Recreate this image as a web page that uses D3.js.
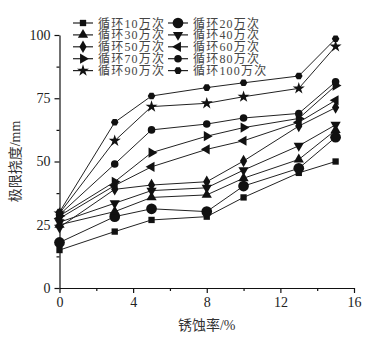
<!DOCTYPE html>
<html>
<head>
<meta charset="utf-8">
<script src="https://cdn.jsdelivr.net/npm/d3@7"></script>
<style>
  body { margin: 0; background: #fff; }
  svg { display: block; }
  text { font-family: "Liberation Serif", "Noto Sans CJK SC", serif; }
</style>
</head>
<body>
<div id="chart"></div>
<script>
// corrosion rate (%)
const corrosion = [0, 3, 5, 8, 10, 13, 15];
const seriesNames = ['循环10万次', '循环20万次', '循环30万次', '循环40万次', '循环50万次',
  '循环60万次', '循环70万次', '循环80万次', '循环90万次', '循环100万次'];
const c10 = [15, 22.3, 26.9, 28.2, 35.8, 45.5, 50];
const c20 = [18, 28.2, 31.3, 30.2, 40.3, 47.3, 59.6];
const c30 = [25, 30.2, 35.8, 36.8, 43.4, 50.8, 62.4];
const c40 = [26, 33.5, 38.5, 39.6, 46.6, 56.2, 64.5];
const c50 = [24, 39, 40.7, 42, 50.2, 64, 71.3];
const c60 = [27.5, 40.5, 47.9, 54.8, 58.2, 65.5, 74.2];
const c70 = [28.5, 42, 53.5, 60, 63.4, 67, 80];
const c80 = [29, 49, 62.5, 64.8, 67.2, 69, 81.5];
const c90 = [29.5, 58.2, 71.7, 73, 75.6, 78.9, 95.5];
const c100 = [30, 65.5, 75.9, 79.2, 81.1, 83.8, 98.5];
const xTicks = [0, 4, 8, 12, 16];
const yTicks = [0, 25, 50, 75, 100];

const allSeries = [c10, c20, c30, c40, c50, c60, c70, c80, c90, c100];
const markers = ['square', 'bigcircle', 'up', 'down', 'diamond', 'left', 'right', 'circle', 'star', 'hex'];

const width = 378, height = 338;
const margin = { top: 35, right: 24, bottom: 50, left: 59.5 };

const svg = d3.select('#chart').append('svg')
  .attr('width', width)
  .attr('height', height);

const x = d3.scaleLinear().domain([0, 16]).range([margin.left, width - margin.right]);
const y = d3.scaleLinear().domain([0, 100]).range([height - margin.bottom, margin.top]);

// marker path generator
function markerPath(type) {
  switch (type) {
    case 'square': return d3.symbol(d3.symbolSquare, 40)();
    case 'bigcircle': return d3.symbol(d3.symbolCircle, 90)();
    case 'circle': return d3.symbol(d3.symbolCircle, 45)();
    case 'up':
    case 'down':
    case 'left':
    case 'right': return d3.symbol(d3.symbolTriangle, 45)();
    case 'diamond': return d3.symbol(d3.symbolDiamond, 45)();
    case 'star': return d3.symbol(d3.symbolStar, 45)();
    case 'hex': {
      const r = 3.8;
      return 'M' + d3.range(6).map(i => {
        const a = Math.PI / 3 * i;
        return [r * Math.cos(a), r * Math.sin(a)].join(',');
      }).join('L') + 'Z';
    }
  }
}
const rotation = { down: 180, left: -90, right: 90 };

function drawMarker(g, type, px, py) {
  g.append('path')
    .attr('d', markerPath(type))
    .attr('transform', `translate(${px},${py}) rotate(${rotation[type] || 0})`)
    .attr('fill', '#111');
}

// axes
svg.append('g')
  .attr('transform', `translate(0,${y(0)})`)
  .call(d3.axisBottom(x).tickValues(xTicks).tickSize(5).tickPadding(4).tickSizeOuter(0));
svg.append('g')
  .attr('transform', `translate(0,${y(0)})`)
  .call(d3.axisBottom(x).tickValues([2, 6, 10, 14]).tickSize(3).tickFormat('').tickSizeOuter(0))
  .select('.domain').remove();

svg.append('g')
  .attr('transform', `translate(${x(0)},0)`)
  .call(d3.axisLeft(y).tickValues(yTicks).tickSize(5).tickPadding(4).tickSizeOuter(0));
svg.append('g')
  .attr('transform', `translate(${x(0)},0)`)
  .call(d3.axisLeft(y).tickValues([12.5, 37.5, 62.5, 87.5]).tickSize(3).tickFormat('').tickSizeOuter(0))
  .select('.domain').remove();

svg.selectAll('.domain, .tick line').attr('stroke', '#111').attr('stroke-width', 1.2);
svg.selectAll('.tick text').attr('font-size', '14px').attr('fill', '#222')
  .attr('font-family', '"Liberation Serif", serif');

// axis titles
svg.append('text')
  .attr('x', x(8))
  .attr('y', 330)
  .attr('text-anchor', 'middle')
  .attr('font-size', '14px')
  .attr('fill', '#333')
  .text('锈蚀率/%');

svg.append('text')
  .attr('transform', `translate(20,${y(50)}) rotate(-90)`)
  .attr('text-anchor', 'middle')
  .attr('font-size', '14px')
  .attr('fill', '#333')
  .text('极限挠度/mm');

// series
const line = d3.line().x((d, i) => x(corrosion[i])).y(d => y(d));
const plot = svg.append('g');
allSeries.forEach(vals => {
  plot.append('path')
    .datum(vals)
    .attr('d', line)
    .attr('fill', 'none')
    .attr('stroke', '#222')
    .attr('stroke-width', 1);
});
allSeries.forEach((vals, si) => {
  vals.forEach((v, i) => drawMarker(plot, markers[si], x(corrosion[i]), y(v)));
});

// legend
const legend = svg.append('g');
seriesNames.forEach((name, i) => {
  const col = i % 2, row = Math.floor(i / 2);
  const lx = col === 0 ? 73 : 168;
  const ly = 23 + row * 11.9;
  legend.append('line')
    .attr('x1', lx).attr('x2', lx + 20)
    .attr('y1', ly).attr('y2', ly)
    .attr('stroke', '#222').attr('stroke-width', 1.2);
  drawMarker(legend, markers[i], lx + 10, ly);
  legend.append('text')
    .attr('x', lx + 25)
    .attr('y', ly + 4.5)
    .attr('font-size', '12px')
    .attr('letter-spacing', '1.2px')
    .attr('fill', '#444')
    .text(name);
});
</script>
</body>
</html>
